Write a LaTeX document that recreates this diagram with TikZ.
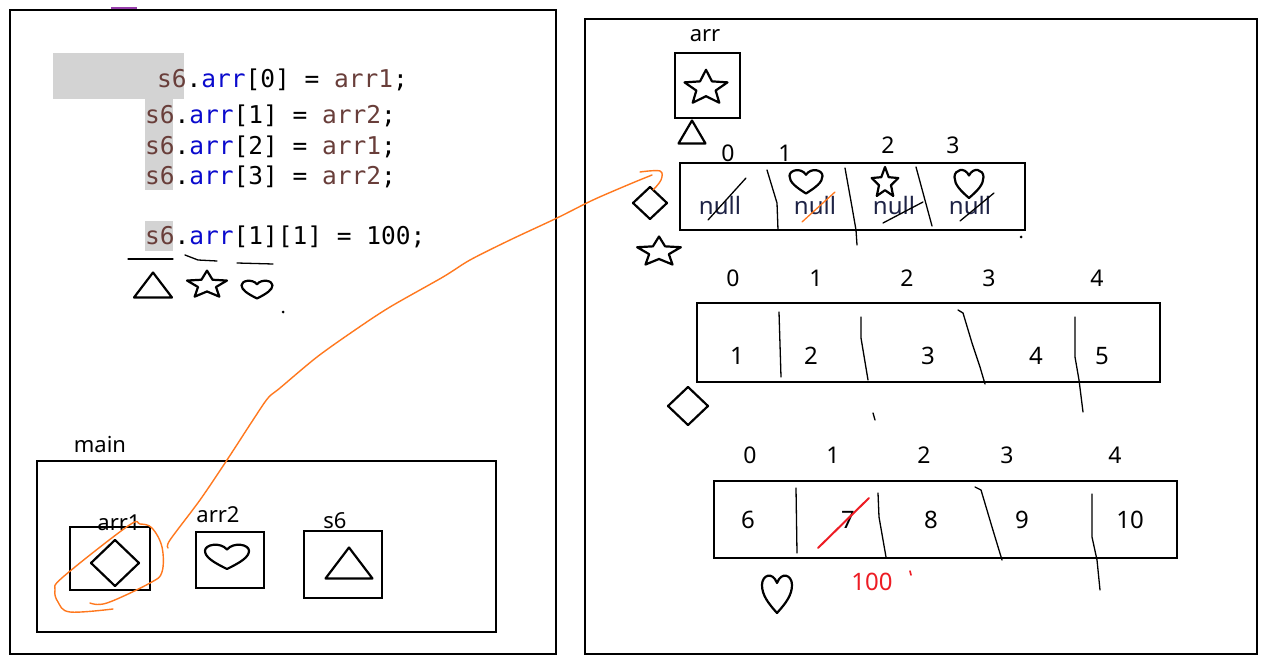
\documentclass[tikz,border=0pt]{standalone}
\usepackage{fontspec}
\setmainfont{Noto Sans}
\newfontfamily\codefont{DejaVu Sans Mono}
\definecolor{cbrown}{RGB}{105,62,58}
\definecolor{cblue}{RGB}{10,10,205}
\definecolor{hlgray}{RGB}{211,211,211}
\definecolor{pen}{RGB}{255,120,30}
\definecolor{redpen}{RGB}{237,28,36}
\definecolor{nullc}{RGB}{30,35,70}
\definecolor{purp}{RGB}{150,60,170}
\tikzset{
  frame/.style={draw=black, line width=2.4pt},
  box/.style={draw=black, line width=2.6pt},
  shp/.style={draw=black, line width=2.2pt, line join=round},
  div/.style={draw=black, line width=1.3pt, line join=round, line cap=round},
  orange/.style={draw=pen, line width=1.4pt, line join=round, line cap=round},
  lbl/.style={font=\fontsize{22}{22}\selectfont, inner sep=0pt, anchor=base},
  idx/.style={font=\fontsize{23}{23}\selectfont, inner sep=0pt, anchor=base},
  val/.style={font=\fontsize{24}{24}\selectfont, inner sep=0pt, anchor=base},
  nul/.style={font=\fontsize{24}{24}\selectfont, inner sep=0pt, anchor=base, text=nullc},
  code/.style={font=\codefont\fontsize{24.5}{24.5}\selectfont, inner sep=0pt, anchor=base west},
  pics/starp/.style args={#1/#2}{code={
    \draw[shp, xscale=#1, yscale=#2] (-90:1) -- (-54:0.45) -- (-18:1) -- (18:0.45) -- (54:1)
      -- (90:0.45) -- (126:1) -- (162:0.45) -- (198:1) -- (234:0.45) -- cycle;}},
  pics/diam/.style args={#1/#2}{code={
    \draw[shp] (0,-#2) -- (#1,0) -- (0,#2) -- (-#1,0) -- cycle;}},
  pics/tri/.style args={#1/#2}{code={
    \draw[shp] (-#1/2,#2/2) -- (#1/2,#2/2) -- (0,-#2/2) -- cycle;}},
  pics/heartp/.style args={#1/#2}{code={
    \draw[shp, xscale=#1/2, yscale=#2/2] (0,1) .. controls (-0.6,0.5) and (-1,0.1) .. (-1,-0.4)
      .. controls (-1,-0.9) and (-0.3,-1.1) .. (0,-0.5)
      .. controls (0.3,-1.1) and (1,-0.9) .. (1,-0.4)
      .. controls (1,0.1) and (0.6,0.5) .. (0,1) -- cycle;}},
}
\begin{document}
\begin{tikzpicture}[x=1pt, y=-1pt]
\useasboundingbox (0,0) rectangle (1280,663);
\fill[white] (0,0) rectangle (1280,663);

% panels
\draw[draw=purp, line width=2pt] (111,8) -- (137,8);
\draw[frame] (10,10) rectangle (556,654);
\draw[frame] (585,19) rectangle (1257,654);

% code highlight
\fill[hlgray] (53,53) rectangle (184,99);
\fill[hlgray] (145,99) rectangle (173,190);
\fill[hlgray] (145,221) rectangle (173,251);

\node[code] (c1) at (157,88) {\textcolor{cbrown}{s6}.\textcolor{cblue}{arr}[0] = \textcolor{cbrown}{arr1};};
\node[code] (c2) at (145,124) {\textcolor{cbrown}{s6}.\textcolor{cblue}{arr}[1] = \textcolor{cbrown}{arr2};};
\node[code] (c3) at (145,155) {\textcolor{cbrown}{s6}.\textcolor{cblue}{arr}[2] = \textcolor{cbrown}{arr1};};
\node[code] (c4) at (145,185) {\textcolor{cbrown}{s6}.\textcolor{cblue}{arr}[3] = \textcolor{cbrown}{arr2};};
\node[code] (c5) at (145,245) {\textcolor{cbrown}{s6}.\textcolor{cblue}{arr}[1][1] = 100;};

% scribbles under code
\draw[div] (128,259) -- (173,259);
\draw[div] (185,255) -- (198,260) -- (217,261);
\draw[div] (237,263) -- (273,264);
\pic at (153,285) {tri=38/25};
\pic at (207,285) {starp=21/14.4};
\pic at (257,289) {heartp=31/19};
\fill (283,312) circle (1.5);

% main frame
\node[lbl] (mainl) at (100,452) {main};
\draw[box] (37,461) rectangle (496,632);
\node[lbl] (a1l) at (119,530) {arr1};
\draw[box] (70,527) rectangle (150,590);
\pic at (115,563) {diam=24/23};
\node[lbl] (a2l) at (218,522) {arr2};
\draw[box] (196,532) rectangle (264,588);
\pic at (227,556) {heartp=44/26};
\node[lbl] (s6l) at (335,528) {s6};
\draw[box] (304,531) rectangle (382,598);
\pic at (349,563) {tri=47/31};

% right panel: arr
\node[lbl] (arrl) at (705,42) {arr};
\draw[box] (675,53) rectangle (740,118);
\pic at (706,88) {starp=22.6/18.2};
\pic at (692,132) {tri=27/23};

% first array
\node[idx] (i00) at (728,162) {0};
\node[idx] (i01) at (785,162) {1};
\node[idx] (i02) at (888,154) {2};
\node[idx] (i03) at (953,154) {3};
\draw[box] (680,163) rectangle (1025,230);
\node[nul] (n0) at (720,215) {null};
\node[nul] (n1) at (815,215) {null};
\node[nul] (n2) at (894,215) {null};
\node[nul] (n3) at (970,215) {null};
\draw[div] (708,220) -- (746,178);
\draw[draw=pen, line width=1.3pt, line cap=round] (802,222) -- (835,192);
\draw[div] (883,223) -- (923,202);
\draw[div] (960,221) -- (994,193);
\draw[div] (767,170) -- (777,203) -- (778,230);
\draw[div] (845,168) -- (852,207) -- (856,230) -- (857,245);
\draw[div] (916,167) -- (932,226);
\pic at (806,181) {heartp=33/25};
\pic at (885,183) {starp=14/16};
\pic at (969,183) {heartp=29/30};
\fill (1021,237) circle (1.5);
\pic at (650,203) {diam=17/16};
\pic at (659,252) {starp=23/15.5};

% second array
\node[idx] (i10) at (733,286) {0};
\node[idx] (i11) at (816,286) {1};
\node[idx] (i12) at (907,286) {2};
\node[idx] (i13) at (989,286) {3};
\node[idx] (i14) at (1097,286) {4};
\draw[box] (697,303) rectangle (1160,382);
\node[val] (v10) at (737,364) {1};
\node[val] (v11) at (811,364) {2};
\node[val] (v12) at (928,364) {3};
\node[val] (v13) at (1036,364) {4};
\node[val] (v14) at (1102,364) {5};
\draw[div] (779,312) -- (781,377);
\draw[div] (861,317) -- (861,338) -- (868,380);
\draw[div] (958,310) -- (963,313) -- (972,343) -- (980,367) -- (985,384);
\draw[div] (1075,317) -- (1075,357) -- (1079,380) -- (1083,412);
\draw[div] (873,413) -- (875,420);
\pic at (688,406) {diam=20/19};

% third array
\node[idx] (i20) at (750,463) {0};
\node[idx] (i21) at (833,463) {1};
\node[idx] (i22) at (924,463) {2};
\node[idx] (i23) at (1007,463) {3};
\node[idx] (i24) at (1115,463) {4};
\draw[box] (714,481) rectangle (1177,558);
\node[val] (v20) at (748,528) {6};
\node[val] (v21) at (848,528) {7};
\node[val] (v22) at (931,528) {8};
\node[val] (v23) at (1022,528) {9};
\node[val] (v24) at (1130,528) {10};
\draw[draw=redpen, line width=2pt, line cap=round] (818,548) -- (869,498);
\draw[div] (796,488) -- (797,553);
\draw[div] (878,493) -- (879,517) -- (886,557);
\draw[div] (975,487) -- (981,490) -- (992,527) -- (1002,560);
\draw[div] (1092,494) -- (1092,537) -- (1097,560) -- (1100,590);
\node[val, text=redpen] (hundred) at (872,590) {100};
\draw[draw=redpen, line width=1.6pt, line cap=round] (910,571) -- (911,575);
\pic at (777,593) {heartp=30/40};

% orange pen strokes
\draw[orange] plot[smooth, tension=0.6] coordinates {(90,603) (107,603) (150,583) (162,572) (162,547) (152,528) (140,524) (128,526) (63,577) (55,590) (58,602) (70,612) (113,609)};
\draw[orange] plot[smooth, tension=0.5] coordinates {(168,548) (170,540) (200,500) (227,460) (253,420) (268,398) (280,388) (317,357) (355,330) (390,307) (443,277) (470,260) (510,240) (557,218) (593,200) (630,184) (652,175)};
\draw[orange] plot[smooth, tension=0.6] coordinates {(640,172) (660,171) (661,180) (653,190)};
\end{tikzpicture}
\end{document}
